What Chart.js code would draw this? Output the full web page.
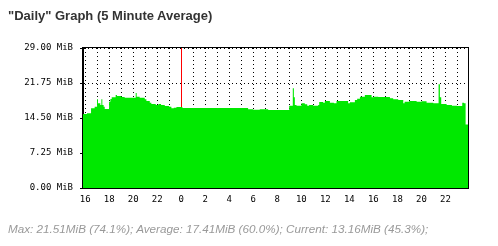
<!DOCTYPE html>
<html>
<head>
<meta charset="utf-8">
<script src="https://cdn.jsdelivr.net/npm/chart.js@4/dist/chart.umd.min.js"></script>
<style>
    html, body { margin: 0; padding: 0; background: #fff; }
    #wrap { position: relative; width: 498px; height: 246px; overflow: hidden; }
    #graph { position: absolute; left: 0; top: 0; }
    #title { position: absolute; left: 8px; top: 8px; font: bold 13px "Liberation Sans", sans-serif; color: #333; white-space: nowrap; }
    #foot { position: absolute; left: 8px; top: 222px; font: italic 11.7px "Liberation Sans", sans-serif; color: #999; white-space: nowrap; }
</style>
</head>
<body>
<div id="wrap">
    <canvas id="graph" width="498" height="246"></canvas>
    <div id="title">"Daily" Graph (5 Minute Average)</div>
    <div id="foot">Max: 21.51MiB (74.1%); Average: 17.41MiB (60.0%); Current: 13.16MiB (45.3%);</div>
</div>
<script>
// hora (24 = medianoche) en que empieza cada tramo, y su valor en MiB
const hours = [
    15.82, 16.15, 16.49, 16.79, 16.99, 17.07, 17.26, 17.35, 17.43, 17.54,
    17.63, 17.99, 18.10, 18.21, 18.54, 18.65, 19.01, 19.29, 20.21, 20.29,
    20.54, 20.96, 21.10, 21.38, 21.51, 21.88, 22.10, 22.32, 22.63, 22.99,
    23.18, 23.38, 23.60, 24.10, 29.57, 29.99, 30.54, 31.24, 32.99, 33.29,
    33.38, 33.46, 33.60, 34.01, 34.29, 34.49, 34.65, 34.99, 35.40, 35.49,
    35.82, 35.96, 36.38, 36.71, 36.93, 37.90, 38.04, 38.46, 38.65, 38.88,
    39.29, 39.85, 40.04, 40.40, 41.38, 41.65, 42.07, 42.49, 42.60, 42.99,
    43.60, 44.01, 44.43, 44.99, 45.43, 45.54, 45.65, 46.10, 46.54, 46.97,
    47.40, 47.54, 47.68, 47.88
];
const traffic = [
    15.33, 15.47, 16.50, 16.85, 18.37, 17.54, 17.19, 18.37, 17.19, 16.85,
    16.36, 17.88, 18.44, 18.78, 19.26, 19.06, 18.85, 18.71, 19.68, 18.92,
    18.71, 18.37, 18.02, 17.68, 17.40, 17.19, 17.40, 17.19, 16.99, 16.85,
    16.50, 16.64, 16.78, 16.57, 16.30, 16.23, 16.30, 16.16, 17.05, 20.65,
    18.78, 17.19, 17.05, 17.54, 17.33, 17.05, 17.19, 17.05, 17.19, 17.81,
    17.68, 18.02, 17.68, 17.54, 18.02, 17.54, 17.75, 18.23, 18.50, 18.92,
    19.26, 18.78, 18.92, 18.85, 18.57, 18.37, 18.23, 17.54, 17.88, 18.02,
    17.88, 17.95, 17.68, 17.54, 21.51, 18.78, 17.40, 17.19, 17.05, 16.99,
    17.68, 17.54, 13.16, 13.16
];
const yTicks = [0, 7.25, 14.5, 21.75, 29];
const hourTicks = [16, 17, 18, 19, 20, 21, 22, 23, 24, 25, 26, 27, 28, 29, 30, 31,
                   32, 33, 34, 35, 36, 37, 38, 39, 40, 41, 42, 43, 44, 45, 46, 47];
const midnight = 24;

const points = hours.map((h, i) => ({ x: h, y: traffic[i] }));
const isMidnight = c => c.tick && c.tick.value === midnight;

// marco negro alrededor del área del gráfico
const frame = {
    id: 'frame',
    afterDraw(chart) {
        const a = chart.chartArea;
        const ctx = chart.ctx;
        ctx.save();
        ctx.strokeStyle = '#000';
        ctx.lineWidth = 1;
        ctx.strokeRect(Math.round(a.left) - 0.5, Math.round(a.top) - 0.5,
                       Math.round(a.right - a.left) + 1, Math.round(a.bottom - a.top) + 1);
        ctx.restore();
    }
};

const ctx = document.getElementById('graph').getContext('2d');
new Chart(ctx, {
    type: 'line',
    data: {
        datasets: [{
            data: points,
            stepped: 'before',
            fill: 'origin',
            backgroundColor: '#00e800',
            borderWidth: 0,
            pointRadius: 0,
            tension: 0
        }]
    },
    options: {
        responsive: false,
        animation: false,
        layout: { padding: { left: 0, top: 48, right: 30, bottom: 0 } },
        plugins: { legend: { display: false }, tooltip: { enabled: false } },
        scales: {
            x: {
                type: 'linear',
                min: 15.82,
                max: 47.88,
                z: 1,
                afterFit: s => { s.height = 58; },
                afterBuildTicks: s => { s.ticks = hourTicks.map(v => ({ value: v })); },
                grid: {
                    drawTicks: false,
                    lineWidth: 1,
                    color: c => (isMidnight(c) ? '#ff0000' : '#000')
                },
                border: {
                    display: true,
                    color: '#000',
                    dash: c => (isMidnight(c) ? [] : [1, 3])
                },
                ticks: {
                    autoSkip: false,
                    maxRotation: 0,
                    padding: 6,
                    color: '#000',
                    font: { family: 'DejaVu Sans Mono', size: 9 },
                    callback: v => (v % 2 === 0 ? String(v % 24) : '')
                }
            },
            y: {
                min: 0,
                max: 29,
                z: 1,
                afterFit: s => { s.width = 83; },
                afterBuildTicks: s => { s.ticks = yTicks.map(v => ({ value: v })); },
                grid: {
                    color: '#000',
                    lineWidth: 1,
                    tickLength: 3,
                    tickColor: '#000'
                },
                border: { display: true, color: '#000', dash: [1, 3] },
                ticks: {
                    padding: 7,
                    color: '#000',
                    font: { family: 'DejaVu Sans Mono', size: 9 },
                    callback: v => v.toFixed(2) + ' MiB'
                }
            }
        }
    },
    plugins: [frame]
});
</script>
</body>
</html>
